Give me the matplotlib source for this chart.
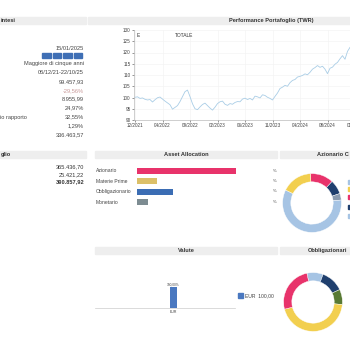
import matplotlib
matplotlib.use("Agg")
import matplotlib.pyplot as plt
from matplotlib.patches import Rectangle

plt.rcParams['font.family'] = ['Liberation Sans', 'DejaVu Sans']

# Data
summary_values = ["15/01/2025", "Maggiore di cinque anni", "06/12/21-22/10/25", "99.457,93",
                  "-29,56%", "8.955,99", "24,97%", "32,55%", "1,29%", "336.463,57"]
portfolio_values = ["365.436,70", "25.421,22", "390.857,92"]

twr = [100.1, 100.3, 99.6, 99.8, 99.2, 98.9, 99.1, 98.0, 99.0, 99.9,
       100.2, 99.3, 98.4, 97.6, 96.8, 94.8, 95.6, 96.4, 98.2, 100.4,
       102.6, 103.3, 100.4, 97.2, 95.0, 94.6, 95.8, 96.9, 97.5, 96.4,
       95.3, 94.4, 95.7, 97.3, 98.1, 98.4, 97.0, 96.5, 97.3, 97.0,
       97.8, 98.2, 98.1, 99.3, 99.7, 99.1, 99.6, 98.9, 100.6, 100.3,
       99.8, 101.2, 100.9, 100.1, 99.6, 98.9, 100.5, 102.0, 104.0, 104.6,
       105.4, 105.0, 106.6, 107.6, 108.0, 109.1, 109.4, 109.8, 110.5, 110.1,
       111.2, 112.6, 113.3, 114.2, 113.4, 113.9, 112.6, 110.6, 113.0, 113.5,
       114.8, 115.6, 117.2, 118.6, 117.0, 120.5, 122.3, 123.0]
date_labels = ["12/2021", "04/2022", "09/2022", "02/2023", "06/2023",
               "11/2023", "04/2024", "08/2024", "01/2025"]
y_ticks = [90, 95, 100, 105, 110, 115, 120, 125, 130]

asset_classes = ["Azionario", "Materie Prime", "Obbligazionario", "Monetario"]
asset_values = [59.6, 12.1, 21.7, 6.6]
asset_colors = ["#e8336b", "#dcc068", "#3b6db4", "#7d8c92"]

equity_share = [12.8, 7.8, 3.6, 58.9, 16.9]
equity_colors = ["#e8336b", "#1f3f6e", "#8a9bb0", "#a6c4e4", "#f2cf4f"]

bond_share = [8.9, 12.5, 8.3, 44.7, 25.6]
bond_colors = ["#a6c4e4", "#1f3f6e", "#587a34", "#f2cf4f", "#e8336b"]

currencies = ["EUR"]
currency_values = [100.0]

W = H = 350.0
fig = plt.figure(figsize=(3.5, 3.5), dpi=100)


def fx(x):
    return x / W


def fy(y):
    return 1 - y / H


def add_ax(x0, y0, x1, y1):
    return fig.add_axes([fx(x0), fy(y1), (x1 - x0) / W, (y1 - y0) / H])


def band(x0, x1, y0, y1):
    fig.patches.append(Rectangle((fx(x0), fy(y1)), (x1 - x0) / W, (y1 - y0) / H,
                                 transform=fig.transFigure, color="#eeeeee", zorder=0))


def header(text, x, y, ha="center"):
    fig.text(fx(x), fy(y), text, ha=ha, va="center", fontsize=4.1, fontweight="bold", color="#333333")


# Header bands
band(0, 86, 17, 24)
band(88, 352, 17, 24)
band(0, 86, 151, 158)
band(95, 277, 151, 158)
band(280, 352, 151, 158)
band(95, 277, 247, 254)
band(280, 352, 247, 254)
header("intesi", 0.5, 20.5, ha="left")
header("Performance Portafoglio (TWR)", 271, 20.5)
header("glio", 0.5, 154.5, ha="left")
header("Asset Allocation", 186, 154.5)
header("Azionario C", 317, 154.5, ha="left")
header("Valute", 186, 250.5)
header("Obbligazionari", 308, 250.5, ha="left")

# Summary column
rows_y = [48, 64, 73, 82, 91, 99, 108, 117, 126, 135]
for val, y in zip(summary_values, rows_y):
    col = "#c89898" if val.startswith("-") else "#444444"
    fig.text(fx(84), fy(y), val, ha="right", va="center", fontsize=4.1, color=col)
fig.text(fx(0), fy(117), "io rapporto", ha="left", va="center", fontsize=4.1, color="#444444")
for k in range(4):
    fig.patches.append(Rectangle((fx(42 + k * 10.5), fy(58)), 8.6 / W, 5 / H,
                                 transform=fig.transFigure, color="#3f6fb5"))

for val, y, bold in zip(portfolio_values, [167, 174.5, 182], [False, False, True]):
    fig.text(fx(84), fy(y), val, ha="right", va="center", fontsize=4.1,
             color="#333333", fontweight="bold" if bold else "normal")

# Performance line chart
ax = add_ax(134, 30, 369, 120)
ax.plot(range(len(twr)), twr, color="#a9cde6", linewidth=0.6)
ax.set_xlim(-0.4, 93.6)
ax.set_ylim(90, 130)
ax.set_yticks(y_ticks)
ax.set_xticks([k * 11 for k in range(len(date_labels))])
ax.set_xticklabels(date_labels)
ax.tick_params(labelsize=3.3, length=1.5, width=0.4, pad=1, colors="#444444")
ax.grid(True, color="#f2f2f2", linewidth=0.4)
for s in ["top", "right"]:
    ax.spines[s].set_visible(False)
for s in ["left", "bottom"]:
    ax.spines[s].set_color("#aaaaaa")
    ax.spines[s].set_linewidth(0.4)
ax.text(0.01, 0.94, "E", transform=ax.transAxes, fontsize=3.5, color="#333333", va="center")
ax.text(0.175, 0.94, "TOTALE", transform=ax.transAxes, fontsize=3.5, color="#333333", va="center")

# Asset allocation bars
ax2 = add_ax(137, 166, 240, 207)
ax2.barh(range(len(asset_values)), asset_values, height=0.58, color=asset_colors)
ax2.set_xlim(0, 62)
ax2.set_ylim(3.5, -0.5)
ax2.axis("off")
for name, y in zip(asset_classes, [171, 181.5, 191.5, 202]):
    fig.text(fx(96), fy(y), name, ha="left", va="center", fontsize=3.6, color="#444444")
    fig.text(fx(273), fy(y), "%", ha="left", va="center", fontsize=3, color="#444444")

# Equity donut
ax3 = add_ax(282, 173, 342, 233)
ax3.pie(equity_share, colors=equity_colors, startangle=93, counterclock=False,
        radius=1, wedgeprops=dict(width=0.28, edgecolor="white", linewidth=0.3))
ax3.set_xlim(-1.02, 1.02)
ax3.set_ylim(-1.02, 1.02)
for c, y in zip(["#a6c4e4", "#f2cf4f", "#e8336b", "#1f3f6e", "#a6c4e4"], [182, 189, 197, 207, 216]):
    fig.patches.append(Rectangle((fx(347.5), fy(y + 2)), 4 / W, 4 / H,
                                 transform=fig.transFigure, color=c))

# Bond donut
ax4 = add_ax(283, 272, 343, 332)
ax4.pie(bond_share, colors=bond_colors, startangle=102, counterclock=False,
        radius=1, wedgeprops=dict(width=0.28, edgecolor="white", linewidth=0.3))
ax4.set_xlim(-1.02, 1.02)
ax4.set_ylim(-1.02, 1.02)

# Currency bar
ax5 = add_ax(95, 280, 235, 308)
ax5.bar(range(len(currency_values)), currency_values, width=1, color="#4a78c0")
ax5.set_xlim(-11.2, 8.8)
ax5.set_ylim(0, 133)
for s in ["top", "right", "left"]:
    ax5.spines[s].set_visible(False)
ax5.spines["bottom"].set_color("#cccccc")
ax5.spines["bottom"].set_linewidth(0.5)
ax5.set_yticks([])
ax5.set_xticks([0])
ax5.set_xticklabels(currencies)
ax5.tick_params(labelsize=2.5, length=0, pad=1.5, colors="#444444")
for k, v in enumerate(currency_values):
    ax5.text(k, v + 4, "100,00%", ha="center", va="bottom", fontsize=2.3, color="#444444")
fig.patches.append(Rectangle((fx(238), fy(297.5)), 5 / W, 5 / H,
                             transform=fig.transFigure, color="#4a78c0"))
fig.text(fx(245), fy(296), "EUR  100,00", ha="left", va="center", fontsize=3.6, color="#444444")

fig.savefig("out.png", dpi=100, facecolor="white")
